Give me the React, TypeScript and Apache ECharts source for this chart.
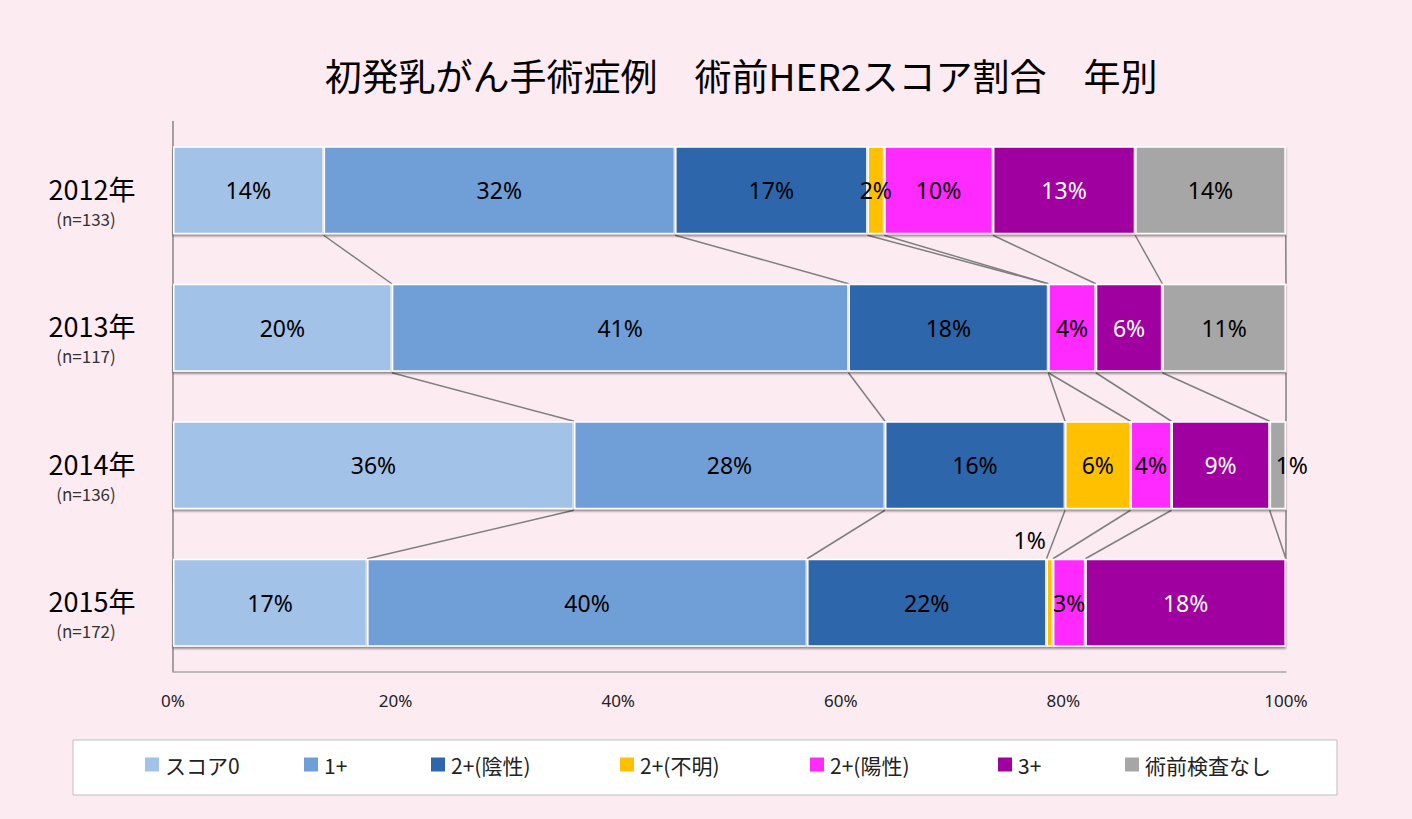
import React, { useEffect, useRef } from "react";
import * as echarts from "echarts";

const titleText = "初発乳がん手術症例　術前HER2スコア割合　年別";
const years = ["2012年", "2013年", "2014年", "2015年"];
const nLabels = ["(n=133)", "(n=117)", "(n=136)", "(n=172)"];
const seriesNames = ["スコア0", "1+", "2+(陰性)", "2+(不明)", "2+(陽性)", "3+", "術前検査なし"];
const seriesColors = ["#a3c2e8", "#6f9fd8", "#2e66ac", "#ffc000", "#ff2bff", "#a0009f", "#a6a6a6"];
const labelColors = ["#000", "#000", "#000", "#000", "#000", "#fff", "#000"];
const legendLefts = [143, 302, 429, 618, 808, 996, 1123];

// percent per year (2012, 2013, 2014, 2015)
const score0 = [13.53, 19.66, 36.03, 17.44];
const plus1 = [31.58, 41.03, 27.94, 39.53];
const plus2Neg = [17.29, 17.95, 16.18, 21.51];
const plus2Unknown = [1.5, 0, 5.88, 0.58];
const plus2Pos = [9.77, 4.27, 3.68, 2.91];
const plus3 = [12.78, 5.98, 8.82, 18.02];
const noTest = [13.53, 11.11, 1.47, 0];

const xTickValues = [0, 20, 40, 60, 80, 100];

const seriesValues = [score0, plus1, plus2Neg, plus2Unknown, plus2Pos, plus3, noTest];

const JP = "'Noto Sans CJK JP', 'Noto Sans', sans-serif";
const NUM = "'Noto Sans', 'Noto Sans CJK JP', sans-serif";
const BAR_FRAC = 0.64;
const GRID_TOP = 121.5;
const GRID_BOTTOM = 147.5;
const YEAR_SHIFT = -2;
const N_SHIFT = 28;

export default function App() {
  const ref = useRef<HTMLDivElement>(null);

  useEffect(() => {
    if (!ref.current) return;
    const chart = echarts.init(ref.current, null, { renderer: "svg" });

    const barSeries = seriesNames.map((name, si) => ({
      name,
      type: "bar",
      stack: "total",
      barWidth: BAR_FRAC * 100 + "%",
      xAxisIndex: 0,
      yAxisIndex: 0,
      itemStyle: {
        color: seriesColors[si],
        borderColor: "#ffffff",
        borderWidth: 1.5,
        shadowColor: "rgba(0,0,0,0.45)",
        shadowBlur: 2,
        shadowOffsetY: 2,
      },
      label: {
        show: true,
        position: "inside",
        color: labelColors[si],
        fontSize: 23,
        fontFamily: NUM,
        formatter: (p: any) => (p.value > 0 ? Math.round(p.value) + "%" : ""),
      },
      data: seriesValues[si].map((v, yi) => {
        if (si === 3 && yi === 3) {
          return { value: v, label: { position: "top", offset: [-20, -2] } };
        }
        if (si === 6 && yi === 2) {
          return { value: v, label: { offset: [14, 0] } };
        }
        return v;
      }),
    }));

    // series-line connectors between consecutive years
    const connectors: number[][] = [];
    for (let yi = 0; yi < years.length - 1; yi++) {
      let cumA = 0;
      let cumB = 0;
      for (let si = 0; si < seriesValues.length; si++) {
        cumA += seriesValues[si][yi];
        cumB += seriesValues[si][yi + 1];
        connectors.push([cumA, yi, cumB]);
      }
    }

    const legends = seriesNames.map((name, i) => ({
      data: [name],
      left: legendLefts[i],
      top: 754,
      icon: "rect",
      itemWidth: 16,
      itemHeight: 16,
      itemGap: 5,
      padding: 0,
      z: 5,
      textStyle: { fontSize: 21, fontFamily: JP, color: "#222" },
    }));

    const labelGrid = (shift: number) => ({
      left: 173,
      right: 126,
      top: GRID_TOP + shift,
      bottom: GRID_BOTTOM - shift,
      containLabel: false,
    });

    const option: any = {
      animation: false,
      backgroundColor: "transparent",
      graphic: [
        {
          type: "text",
          x: 741,
          y: 75,
          style: {
            text: titleText,
            align: "center",
            verticalAlign: "middle",
            fontSize: 37,
            fontFamily: JP,
            fill: "#000",
          },
        },
        {
          type: "rect",
          z: 0,
          shape: { x: 73, y: 740, width: 1264, height: 55 },
          style: { fill: "#ffffff", stroke: "#bfbfbf", lineWidth: 1 },
        },
      ],
      legend: legends,
      grid: [
        { left: 173, right: 126, top: GRID_TOP, bottom: GRID_BOTTOM, containLabel: false },
        labelGrid(YEAR_SHIFT),
        labelGrid(N_SHIFT),
      ],
      xAxis: [
        {
          type: "value",
          gridIndex: 0,
          min: xTickValues[0],
          max: xTickValues[xTickValues.length - 1],
          interval: 20,
          axisLine: { show: true, lineStyle: { color: "#a6a6a6", width: 1.5 } },
          axisTick: { show: false },
          splitLine: { show: false },
          axisLabel: {
            formatter: "{value}%",
            fontSize: 17,
            fontFamily: NUM,
            color: "#222",
            margin: 20,
          },
        },
        { type: "value", gridIndex: 1, min: 0, max: 100, show: false },
        { type: "value", gridIndex: 2, min: 0, max: 100, show: false },
      ],
      yAxis: [
        {
          type: "category",
          gridIndex: 0,
          inverse: true,
          data: years,
          axisLine: { show: true, lineStyle: { color: "#868686", width: 1.5 } },
          axisTick: { show: false },
          axisLabel: { show: false },
        },
        {
          type: "category",
          gridIndex: 1,
          inverse: true,
          data: years,
          axisLine: { show: false },
          axisTick: { show: false },
          splitLine: { show: false },
          axisLabel: {
            align: "center",
            margin: 81,
            fontSize: 27,
            fontFamily: JP,
            color: "#000",
          },
        },
        {
          type: "category",
          gridIndex: 2,
          inverse: true,
          data: nLabels,
          axisLine: { show: false },
          axisTick: { show: false },
          splitLine: { show: false },
          axisLabel: {
            align: "center",
            margin: 87,
            fontSize: 17,
            fontFamily: JP,
            color: "#333",
          },
        },
      ],
      series: [
        ...barSeries,
        {
          type: "custom",
          name: "series-lines",
          silent: true,
          z: 1,
          xAxisIndex: 0,
          yAxisIndex: 0,
          encode: { x: [0, 2], y: 1 },
          renderItem: (params: any, api: any) => {
            const xa = api.value(0);
            const cat = api.value(1);
            const xb = api.value(2);
            const p1 = api.coord([xa, cat]);
            const p2 = api.coord([xb, cat + 1]);
            const band = api.size([0, 1])[1];
            const h = (band * BAR_FRAC) / 2;
            return {
              type: "line",
              shape: { x1: p1[0], y1: p1[1] + h + 1, x2: p2[0], y2: p2[1] - h },
              style: { stroke: "#7f7f7f", lineWidth: 1.5 },
            };
          },
          data: connectors,
        },
      ],
    };

    chart.setOption(option);
    return () => chart.dispose();
  }, []);

  return (
    <div
      style={{
        position: "absolute",
        left: 0,
        top: 0,
        width: 1412,
        height: 819,
        background: "#fdebf2",
      }}
    >
      <div ref={ref} style={{ width: 1412, height: 819 }} />
    </div>
  );
}
